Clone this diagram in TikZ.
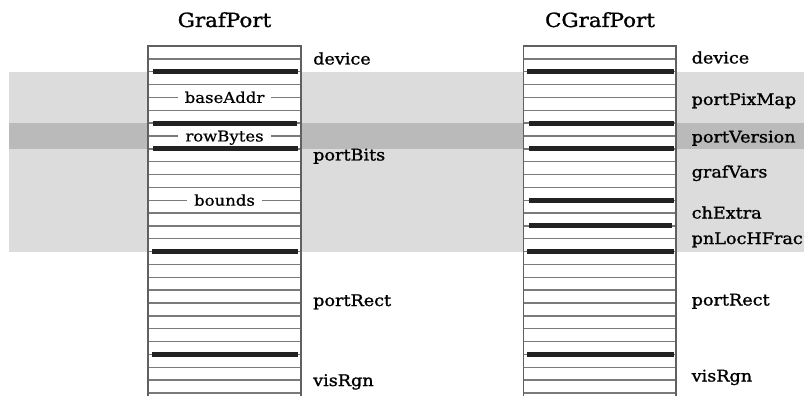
\documentclass[tikz,border=0pt]{standalone}
\usepackage{fontspec}
\newfontfamily\lblfont[FakeStretch=1.1,FakeBold=1.2]{DejaVu Serif}
\newfontfamily\inlblfont[FakeStretch=1.1,FakeBold=0.6]{DejaVu Serif}
\definecolor{bandlight}{RGB}{220,220,220}
\definecolor{banddark}{RGB}{186,186,186}
\definecolor{rowgray}{RGB}{122,122,122}
\definecolor{bordergray}{RGB}{96,96,96}
\definecolor{barblack}{RGB}{34,34,34}
\tikzset{
  rowline/.style={draw=rowgray, line width=1.4pt},
  borderline/.style={draw=bordergray, line width=1.7pt},
  bar/.style={draw=barblack, line width=5pt},
  titlelbl/.style={font=\lblfont\fontsize{19.5}{21}\selectfont, anchor=base, inner sep=0pt},
  fieldlbl/.style={font=\lblfont\fontsize{16}{18}\selectfont, anchor=base west, inner sep=0pt},
  innerlbl/.style={font=\inlblfont\fontsize{15}{17}\selectfont, anchor=base, fill=white, inner xsep=7pt, inner ysep=1.5pt}
}
\newcommand{\ry}[1]{46+12.85*#1}
\begin{document}
\begin{tikzpicture}[x=1pt,y=-1pt]
\useasboundingbox (0,0) rectangle (804,396);
% bands
\fill[bandlight] (9,{\ry{2}}) rectangle (804,{\ry{16}});
\fill[banddark] (9,{\ry{6}}) rectangle (804,{\ry{8}});
% columns
\foreach \xl/\xr in {148/301, 523.5/676}{
  \fill[white] (\xl,46) rectangle (\xr,396);
  \foreach \k in {1,...,27}{
    \draw[rowline] (\xl,{\ry{\k}}) -- (\xr,{\ry{\k}});
  }
  \draw[borderline] (\xl,396) -- (\xl,46) -- (\xr,46) -- (\xr,396);
}
% thick bars left
\foreach \k/\a/\b in {2/153/298, 6/153/297, 8/153/298, 16/152/298, 24/152/298}{
  \draw[bar] (\a,{\ry{\k}}) -- (\b,{\ry{\k}});
}
% thick bars right
\foreach \k/\a/\b in {2/527/674, 6/529/674, 8/529/674, 12/529/674, 14/529/672, 16/527/674, 24/527/674}{
  \draw[bar] (\a,{\ry{\k}}) -- (\b,{\ry{\k}});
}
% titles
\node[titlelbl] (t1) at (224.5,27) {GrafPort};
\node[titlelbl] (t2) at (600,27) {CGrafPort};
% inner labels
\node[innerlbl] (ba) at (224.5,{\ry{4}+5.5}) {baseAddr};
\node[innerlbl] (rb) at (224.5,{\ry{7}+5.5}) {rowBytes};
\node[innerlbl] (bd) at (224.5,{\ry{12}+5.5}) {bounds};
% left field labels
\node[fieldlbl] (l1) at (313,64.5) {device};
\node[fieldlbl] (l2) at (313,160.5) {portBits};
\node[fieldlbl] (l3) at (313,306) {portRect};
\node[fieldlbl] (l4) at (313,386) {visRgn};
% right field labels
\node[fieldlbl] (r1) at (691.5,63.5) {device};
\node[fieldlbl] (r2) at (691.5,105) {portPixMap};
\node[fieldlbl] (r3) at (691.5,142.5) {portVersion};
\node[fieldlbl] (r4) at (691.5,177.5) {grafVars};
\node[fieldlbl] (r5) at (691.5,218.5) {chExtra};
\node[fieldlbl] (r6) at (691.5,244) {pnLocHFrac};
\node[fieldlbl] (r7) at (691.5,305.5) {portRect};
\node[fieldlbl] (r8) at (691.5,381.5) {visRgn};
\end{tikzpicture}
\end{document}
